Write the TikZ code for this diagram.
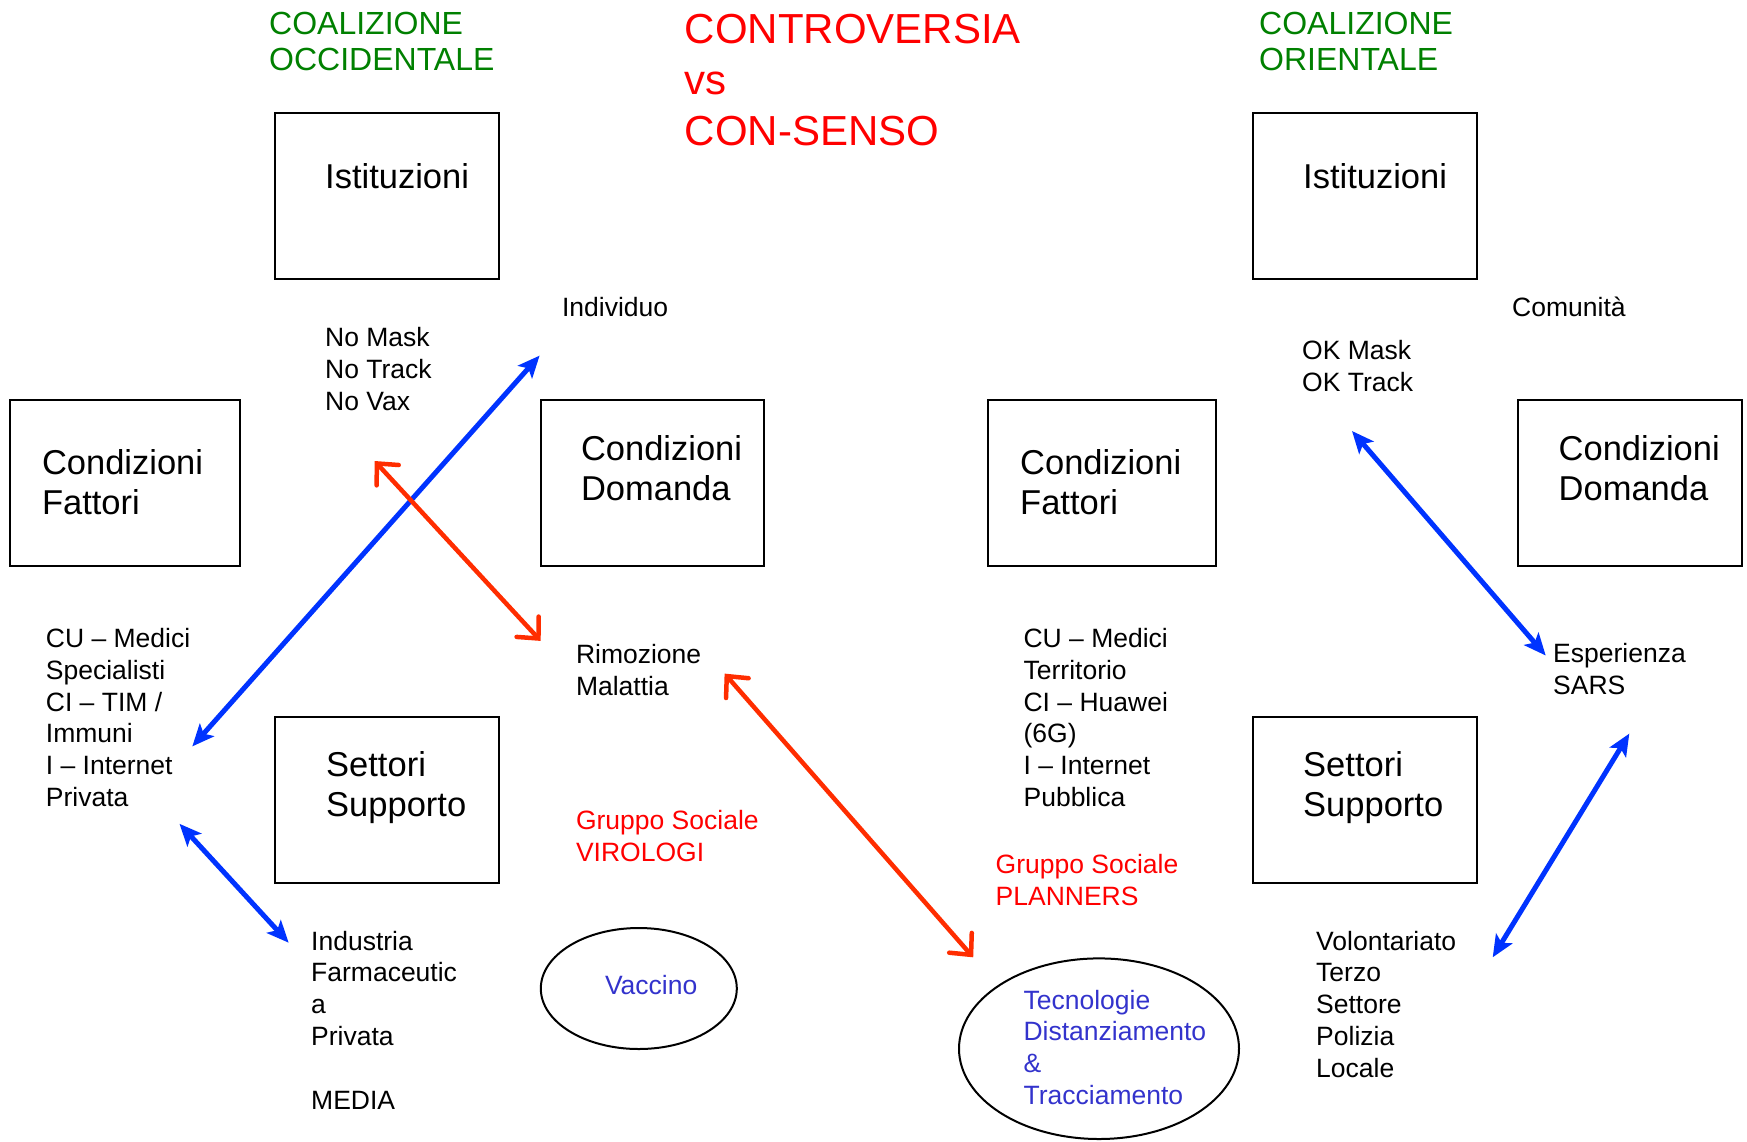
\documentclass[tikz,border=0pt]{standalone}
\usepackage{fontspec}
\setmainfont{Liberation Sans}
\usepackage{xcolor}
\usepackage{tikz}
\usetikzlibrary{positioning,arrows.meta,shapes.geometric}
\definecolor{coalgreen}{RGB}{0,128,0}
\definecolor{titlered}{RGB}{255,0,0}
\definecolor{arrred}{RGB}{255,45,0}
\definecolor{arrblue}{RGB}{0,51,255}
\definecolor{techblue}{RGB}{51,51,204}

\begin{document}
\begin{tikzpicture}[x=1pt, y=-1pt,
    box/.style={draw, line width=2pt, rectangle, minimum width=224pt, minimum height=166pt, inner sep=0},
    big/.style={anchor=base west, inner sep=0, align=left, font=\fontsize{34.5}{40}\selectfont},
    txt/.style={anchor=base west, inner sep=0, align=left, font=\fontsize{26.5}{31.8}\selectfont},
    blu/.style={{Stealth[length=22pt,width=19pt,inset=5pt]}-{Stealth[length=22pt,width=19pt,inset=5pt]}, line width=5pt, arrblue},
    rd/.style={{Straight Barb[length=16pt,width=30pt,line cap=round]}-{Straight Barb[length=16pt,width=30pt,line cap=round]}, line width=4.5pt, arrred}]
    \useasboundingbox (0,0) rectangle (1747,1141);

    % Titles (nodes placed at the baseline of their last line)
    \node[anchor=base west, inner sep=0, align=left, coalgreen, font=\fontsize{32}{36.4}\selectfont] (coalW) at (269,70.9) {COALIZIONE\\OCCIDENTALE};
    \node[anchor=base west, inner sep=0, align=left, coalgreen, font=\fontsize{32}{36.4}\selectfont] (coalE) at (1259,70.9) {COALIZIONE\\ORIENTALE};
    \node[anchor=base west, inner sep=0, align=left, titlered, font=\fontsize{42}{51}\selectfont] (title) at (684.5,145.5) {CONTROVERSIA\\vs\\CON-SENSO};

    % Western coalition
    \node[box] (istW) at (387.2,195.8) {};
    \node[box, minimum width=229.7pt] (cfW) at (124.9,483) {};
    \node[box, minimum width=223pt] (cdW) at (652.2,483) {};
    \node[box] (ssW) at (387.2,800.4) {};
    \node[big] (istWtxt) at (325,188.4) {Istituzioni};
    \node[big] (cfWtxt) at (41.8,514.5) {Condizioni\\Fattori};
    \node[big] (cdWtxt) at (580.8,500) {Condizioni\\Domanda};
    \node[big] (ssWtxt) at (326,816.5) {Settori\\Supporto};
    \node[txt] (indiv) at (561.9,316.4) {Individuo};
    \node[txt] (nomask) at (325,410) {No Mask\\No Track\\No Vax};
    \node[txt] (cuW) at (45.7,806.4) {CU -- Medici\\Specialisti\\CI -- TIM /\\Immuni\\I -- Internet\\Privata};
    \node[txt] (rimoz) at (575.8,695.5) {Rimozione\\Malattia};
    \node[txt, titlered] (viro) at (575.8,861) {Gruppo Sociale\\VIROLOGI};
    \node[txt] (indus) at (311,1109) {Industria\\Farmaceutic\\a\\Privata\\\mbox{}\\MEDIA};
    \node[draw, ellipse, line width=2pt, minimum width=196pt, minimum height=121pt] (vacc) at (638.8,988.5) {};
    \node[txt, techblue] (vacctxt) at (604.8,994.7) {Vaccino};

    % Eastern coalition
    \node[box] (istE) at (1365,195.8) {};
    \node[box, minimum width=228pt] (cfE) at (1101.7,483) {};
    \node[box, minimum width=224.5pt] (cdE) at (1630.2,483) {};
    \node[box] (ssE) at (1365,800.4) {};
    \node[big] (istEtxt) at (1303,188.4) {Istituzioni};
    \node[big] (cfEtxt) at (1020,514.5) {Condizioni\\Fattori};
    \node[big] (cdEtxt) at (1558.5,500) {Condizioni\\Domanda};
    \node[big] (ssEtxt) at (1303,816.5) {Settori\\Supporto};
    \node[txt] (comun) at (1512,316.4) {Comunità};
    \node[txt] (okmask) at (1302,391.6) {OK Mask\\OK Track};
    \node[txt] (cuE) at (1023.4,806.4) {CU -- Medici\\Territorio\\CI -- Huawei\\(6G)\\I -- Internet\\Pubblica};
    \node[txt] (sars) at (1553,694.7) {Esperienza\\SARS};
    \node[txt, titlered] (plan) at (995.5,905.3) {Gruppo Sociale\\PLANNERS};
    \node[txt] (volont) at (1316,1077.3) {Volontariato\\Terzo\\Settore\\Polizia\\Locale};
    \node[draw, ellipse, line width=2pt, minimum width=280pt, minimum height=180.6pt] (tecn) at (1099,1048.7) {};
    \node[txt, techblue] (tecntxt) at (1023.4,1104.5) {Tecnologie\\Distanziamento\\\&\\Tracciamento};

    % Arrow ends
    \coordinate (aIndiv) at (539.6,355.6);
    \coordinate (aCuW) at (192.3,746.4);
    \coordinate (aNomask) at (374.6,461);
    \coordinate (aRimoz) at (540.7,640.9);
    \coordinate (aCuWlow) at (179.5,823.8);
    \coordinate (aIndus) at (288.7,942.7);
    \coordinate (aMalat) at (724.6,673.6);
    \coordinate (aTecn) at (973.2,957.3);
    \coordinate (aOkmask) at (1352,431);
    \coordinate (aSars) at (1545.7,655.5);
    \coordinate (aSarsLow) at (1629.3,733.6);
    \coordinate (aVolont) at (1492.7,957.3);

    % Connections
    \draw[blu] (aCuW) -- (aIndiv);
    \draw[rd] (aNomask) -- (aRimoz);
    \draw[blu] (aCuWlow) -- (aIndus);
    \draw[rd] (aMalat) -- (aTecn);
    \draw[blu] (aOkmask) -- (aSars);
    \draw[blu] (aSarsLow) -- (aVolont);
\end{tikzpicture}
\end{document}
